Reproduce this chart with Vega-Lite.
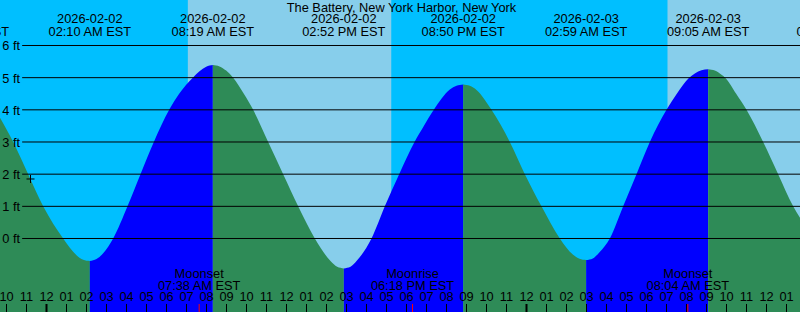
{
  "$schema": "https://vega.github.io/schema/vega-lite/v6.json",
  "width": 800,
  "height": 312,
  "padding": 0,
  "autosize": {"type": "none"},
  "background": "#00BFFF",
  "config": {"view": {"stroke": null}, "font": "Liberation Sans"},
  "datasets": {
    "bands": [
      {"start": "2026-02-01T17:13:00Z", "end": "2026-02-02T07:04:00Z", "phase": "night"},
      {"start": "2026-02-02T07:04:00Z", "end": "2026-02-02T17:15:00Z", "phase": "day"},
      {"start": "2026-02-02T17:15:00Z", "end": "2026-02-03T07:03:00Z", "phase": "night"},
      {"start": "2026-02-03T07:03:00Z", "end": "2026-02-03T17:16:00Z", "phase": "day"}
    ],
    "tide": [
      {"t": "2026-02-01T21:40:00Z", "ft": 3.76, "seg": "f0", "dir": "falling"},
      {"t": "2026-02-01T22:20:00Z", "ft": 3.0, "seg": "f0", "dir": "falling"},
      {"t": "2026-02-01T23:05:00Z", "ft": 2.0, "seg": "f0", "dir": "falling"},
      {"t": "2026-02-01T23:50:00Z", "ft": 1.0, "seg": "f0", "dir": "falling"},
      {"t": "2026-02-02T00:50:00Z", "ft": 0.0, "seg": "f0", "dir": "falling"},
      {"t": "2026-02-02T01:30:00Z", "ft": -0.52, "seg": "f0", "dir": "falling"},
      {"t": "2026-02-02T01:50:00Z", "ft": -0.66, "seg": "f0", "dir": "falling"},
      {"t": "2026-02-02T02:10:00Z", "ft": -0.70, "seg": "f0", "dir": "falling"},

      {"t": "2026-02-02T02:10:00Z", "ft": -0.70, "seg": "r1", "dir": "rising"},
      {"t": "2026-02-02T02:30:00Z", "ft": -0.64, "seg": "r1", "dir": "rising"},
      {"t": "2026-02-02T02:50:00Z", "ft": -0.46, "seg": "r1", "dir": "rising"},
      {"t": "2026-02-02T03:20:00Z", "ft": 0.0, "seg": "r1", "dir": "rising"},
      {"t": "2026-02-02T04:03:00Z", "ft": 1.0, "seg": "r1", "dir": "rising"},
      {"t": "2026-02-02T04:42:00Z", "ft": 2.0, "seg": "r1", "dir": "rising"},
      {"t": "2026-02-02T05:22:00Z", "ft": 3.0, "seg": "r1", "dir": "rising"},
      {"t": "2026-02-02T06:08:00Z", "ft": 4.0, "seg": "r1", "dir": "rising"},
      {"t": "2026-02-02T06:38:00Z", "ft": 4.5, "seg": "r1", "dir": "rising"},
      {"t": "2026-02-02T07:19:00Z", "ft": 5.0, "seg": "r1", "dir": "rising"},
      {"t": "2026-02-02T07:39:00Z", "ft": 5.2, "seg": "r1", "dir": "rising"},
      {"t": "2026-02-02T07:59:00Z", "ft": 5.34, "seg": "r1", "dir": "rising"},
      {"t": "2026-02-02T08:19:00Z", "ft": 5.39, "seg": "r1", "dir": "rising"},

      {"t": "2026-02-02T08:19:00Z", "ft": 5.39, "seg": "f1", "dir": "falling"},
      {"t": "2026-02-02T08:39:00Z", "ft": 5.35, "seg": "f1", "dir": "falling"},
      {"t": "2026-02-02T08:59:00Z", "ft": 5.22, "seg": "f1", "dir": "falling"},
      {"t": "2026-02-02T09:20:00Z", "ft": 5.0, "seg": "f1", "dir": "falling"},
      {"t": "2026-02-02T09:52:00Z", "ft": 4.5, "seg": "f1", "dir": "falling"},
      {"t": "2026-02-02T10:20:00Z", "ft": 4.0, "seg": "f1", "dir": "falling"},
      {"t": "2026-02-02T11:05:00Z", "ft": 3.0, "seg": "f1", "dir": "falling"},
      {"t": "2026-02-02T11:50:00Z", "ft": 2.0, "seg": "f1", "dir": "falling"},
      {"t": "2026-02-02T12:35:00Z", "ft": 1.0, "seg": "f1", "dir": "falling"},
      {"t": "2026-02-02T13:25:00Z", "ft": 0.0, "seg": "f1", "dir": "falling"},
      {"t": "2026-02-02T14:12:00Z", "ft": -0.70, "seg": "f1", "dir": "falling"},
      {"t": "2026-02-02T14:32:00Z", "ft": -0.88, "seg": "f1", "dir": "falling"},
      {"t": "2026-02-02T14:52:00Z", "ft": -0.93, "seg": "f1", "dir": "falling"},

      {"t": "2026-02-02T14:52:00Z", "ft": -0.93, "seg": "r2", "dir": "rising"},
      {"t": "2026-02-02T15:12:00Z", "ft": -0.88, "seg": "r2", "dir": "rising"},
      {"t": "2026-02-02T15:32:00Z", "ft": -0.68, "seg": "r2", "dir": "rising"},
      {"t": "2026-02-02T16:15:00Z", "ft": 0.0, "seg": "r2", "dir": "rising"},
      {"t": "2026-02-02T16:55:00Z", "ft": 1.0, "seg": "r2", "dir": "rising"},
      {"t": "2026-02-02T17:38:00Z", "ft": 2.0, "seg": "r2", "dir": "rising"},
      {"t": "2026-02-02T18:24:00Z", "ft": 3.0, "seg": "r2", "dir": "rising"},
      {"t": "2026-02-02T18:52:00Z", "ft": 3.5, "seg": "r2", "dir": "rising"},
      {"t": "2026-02-02T19:22:00Z", "ft": 4.0, "seg": "r2", "dir": "rising"},
      {"t": "2026-02-02T20:10:00Z", "ft": 4.63, "seg": "r2", "dir": "rising"},
      {"t": "2026-02-02T20:30:00Z", "ft": 4.75, "seg": "r2", "dir": "rising"},
      {"t": "2026-02-02T20:50:00Z", "ft": 4.79, "seg": "r2", "dir": "rising"},

      {"t": "2026-02-02T20:50:00Z", "ft": 4.79, "seg": "f2", "dir": "falling"},
      {"t": "2026-02-02T21:10:00Z", "ft": 4.75, "seg": "f2", "dir": "falling"},
      {"t": "2026-02-02T21:30:00Z", "ft": 4.62, "seg": "f2", "dir": "falling"},
      {"t": "2026-02-02T22:15:00Z", "ft": 4.0, "seg": "f2", "dir": "falling"},
      {"t": "2026-02-02T23:10:00Z", "ft": 3.0, "seg": "f2", "dir": "falling"},
      {"t": "2026-02-02T23:55:00Z", "ft": 2.0, "seg": "f2", "dir": "falling"},
      {"t": "2026-02-03T00:45:00Z", "ft": 1.0, "seg": "f2", "dir": "falling"},
      {"t": "2026-02-03T01:40:00Z", "ft": 0.0, "seg": "f2", "dir": "falling"},
      {"t": "2026-02-03T02:19:00Z", "ft": -0.50, "seg": "f2", "dir": "falling"},
      {"t": "2026-02-03T02:39:00Z", "ft": -0.63, "seg": "f2", "dir": "falling"},
      {"t": "2026-02-03T02:59:00Z", "ft": -0.67, "seg": "f2", "dir": "falling"},

      {"t": "2026-02-03T02:59:00Z", "ft": -0.67, "seg": "r3", "dir": "rising"},
      {"t": "2026-02-03T03:19:00Z", "ft": -0.62, "seg": "r3", "dir": "rising"},
      {"t": "2026-02-03T03:39:00Z", "ft": -0.43, "seg": "r3", "dir": "rising"},
      {"t": "2026-02-03T04:10:00Z", "ft": 0.0, "seg": "r3", "dir": "rising"},
      {"t": "2026-02-03T04:50:00Z", "ft": 1.0, "seg": "r3", "dir": "rising"},
      {"t": "2026-02-03T05:30:00Z", "ft": 2.0, "seg": "r3", "dir": "rising"},
      {"t": "2026-02-03T06:10:00Z", "ft": 3.0, "seg": "r3", "dir": "rising"},
      {"t": "2026-02-03T07:00:00Z", "ft": 4.0, "seg": "r3", "dir": "rising"},
      {"t": "2026-02-03T07:31:00Z", "ft": 4.5, "seg": "r3", "dir": "rising"},
      {"t": "2026-02-03T08:08:00Z", "ft": 5.0, "seg": "r3", "dir": "rising"},
      {"t": "2026-02-03T08:25:00Z", "ft": 5.13, "seg": "r3", "dir": "rising"},
      {"t": "2026-02-03T08:45:00Z", "ft": 5.23, "seg": "r3", "dir": "rising"},
      {"t": "2026-02-03T09:05:00Z", "ft": 5.26, "seg": "r3", "dir": "rising"},

      {"t": "2026-02-03T09:05:00Z", "ft": 5.26, "seg": "f3", "dir": "falling"},
      {"t": "2026-02-03T09:25:00Z", "ft": 5.22, "seg": "f3", "dir": "falling"},
      {"t": "2026-02-03T09:45:00Z", "ft": 5.09, "seg": "f3", "dir": "falling"},
      {"t": "2026-02-03T09:56:00Z", "ft": 5.0, "seg": "f3", "dir": "falling"},
      {"t": "2026-02-03T10:29:00Z", "ft": 4.5, "seg": "f3", "dir": "falling"},
      {"t": "2026-02-03T11:00:00Z", "ft": 4.0, "seg": "f3", "dir": "falling"},
      {"t": "2026-02-03T11:50:00Z", "ft": 3.0, "seg": "f3", "dir": "falling"},
      {"t": "2026-02-03T12:35:00Z", "ft": 2.0, "seg": "f3", "dir": "falling"},
      {"t": "2026-02-03T13:20:00Z", "ft": 1.0, "seg": "f3", "dir": "falling"},
      {"t": "2026-02-03T13:42:00Z", "ft": 0.62, "seg": "f3", "dir": "falling"}
    ],
    "grid": [
      {"ft": 0, "label": "0 ft"},
      {"ft": 1, "label": "1 ft"},
      {"ft": 2, "label": "2 ft"},
      {"ft": 3, "label": "3 ft"},
      {"ft": 4, "label": "4 ft"},
      {"ft": 5, "label": "5 ft"},
      {"ft": 6, "label": "6 ft"}
    ],
    "hours": [
      {"t": "2026-02-01T22:00:00Z", "label": "10"},
      {"t": "2026-02-01T23:00:00Z", "label": "11"},
      {"t": "2026-02-02T00:00:00Z", "label": "12"},
      {"t": "2026-02-02T01:00:00Z", "label": "01"},
      {"t": "2026-02-02T02:00:00Z", "label": "02"},
      {"t": "2026-02-02T03:00:00Z", "label": "03"},
      {"t": "2026-02-02T04:00:00Z", "label": "04"},
      {"t": "2026-02-02T05:00:00Z", "label": "05"},
      {"t": "2026-02-02T06:00:00Z", "label": "06"},
      {"t": "2026-02-02T07:00:00Z", "label": "07"},
      {"t": "2026-02-02T08:00:00Z", "label": "08"},
      {"t": "2026-02-02T09:00:00Z", "label": "09"},
      {"t": "2026-02-02T10:00:00Z", "label": "10"},
      {"t": "2026-02-02T11:00:00Z", "label": "11"},
      {"t": "2026-02-02T12:00:00Z", "label": "12"},
      {"t": "2026-02-02T13:00:00Z", "label": "01"},
      {"t": "2026-02-02T14:00:00Z", "label": "02"},
      {"t": "2026-02-02T15:00:00Z", "label": "03"},
      {"t": "2026-02-02T16:00:00Z", "label": "04"},
      {"t": "2026-02-02T17:00:00Z", "label": "05"},
      {"t": "2026-02-02T18:00:00Z", "label": "06"},
      {"t": "2026-02-02T19:00:00Z", "label": "07"},
      {"t": "2026-02-02T20:00:00Z", "label": "08"},
      {"t": "2026-02-02T21:00:00Z", "label": "09"},
      {"t": "2026-02-02T22:00:00Z", "label": "10"},
      {"t": "2026-02-02T23:00:00Z", "label": "11"},
      {"t": "2026-02-03T00:00:00Z", "label": "12"},
      {"t": "2026-02-03T01:00:00Z", "label": "01"},
      {"t": "2026-02-03T02:00:00Z", "label": "02"},
      {"t": "2026-02-03T03:00:00Z", "label": "03"},
      {"t": "2026-02-03T04:00:00Z", "label": "04"},
      {"t": "2026-02-03T05:00:00Z", "label": "05"},
      {"t": "2026-02-03T06:00:00Z", "label": "06"},
      {"t": "2026-02-03T07:00:00Z", "label": "07"},
      {"t": "2026-02-03T08:00:00Z", "label": "08"},
      {"t": "2026-02-03T09:00:00Z", "label": "09"},
      {"t": "2026-02-03T10:00:00Z", "label": "10"},
      {"t": "2026-02-03T11:00:00Z", "label": "11"},
      {"t": "2026-02-03T12:00:00Z", "label": "12"},
      {"t": "2026-02-03T13:00:00Z", "label": "01"}
    ],
    "now": [
      {"t": "2026-02-01T23:12:00Z", "ft": 1.85}
    ],
    "heading": [
      {"t": "2026-02-02T17:45:00Z", "text": "The Battery, New York Harbor, New York"}
    ],
    "tideEvents": [
      {"t": "2026-02-01T20:03:00Z", "date": "2026-02-01", "time": "08:03 PM EST"},
      {"t": "2026-02-02T02:10:00Z", "date": "2026-02-02", "time": "02:10 AM EST"},
      {"t": "2026-02-02T08:19:00Z", "date": "2026-02-02", "time": "08:19 AM EST"},
      {"t": "2026-02-02T14:52:00Z", "date": "2026-02-02", "time": "02:52 PM EST"},
      {"t": "2026-02-02T20:50:00Z", "date": "2026-02-02", "time": "08:50 PM EST"},
      {"t": "2026-02-03T02:59:00Z", "date": "2026-02-03", "time": "02:59 AM EST"},
      {"t": "2026-02-03T09:05:00Z", "date": "2026-02-03", "time": "09:05 AM EST"},
      {"t": "2026-02-03T15:35:00Z", "date": "2026-02-03", "time": "03:35 PM EST"}
    ],
    "moon": [
      {"t": "2026-02-02T07:38:00Z", "event": "Moonset", "time": "07:38 AM EST"},
      {"t": "2026-02-02T18:18:00Z", "event": "Moonrise", "time": "06:18 PM EST"},
      {"t": "2026-02-03T08:04:00Z", "event": "Moonset", "time": "08:04 AM EST"}
    ]
  },
  "layer": [
    {
      "data": {"name": "bands"},
      "mark": {"type": "rect", "clip": true},
      "encoding": {
        "x": {
          "field": "start", "type": "temporal", "axis": null,
          "scale": {"type": "utc", "nice": false, "domain": [
            {"year": 2026, "month": 2, "date": 1, "hours": 21, "minutes": 40, "seconds": 30, "utc": true},
            {"year": 2026, "month": 2, "date": 3, "hours": 13, "minutes": 40, "seconds": 30, "utc": true}
          ]}
        },
        "x2": {"field": "end"},
        "color": {
          "field": "phase", "type": "nominal",
          "scale": {"domain": ["night", "day", "rising", "falling"], "range": ["#00BFFF", "#87CEEB", "#0000FF", "#2E8B57"]},
          "legend": null
        }
      }
    },
    {
      "data": {"name": "tide"},
      "mark": {"type": "area", "interpolate": "monotone", "clip": true},
      "encoding": {
        "x": {"field": "t", "type": "temporal", "axis": null},
        "y": {"field": "ft", "type": "quantitative", "stack": null, "axis": null,
              "scale": {"domain": [-2.285, 7.4145], "nice": false, "zero": false}},
        "y2": {"datum": -2.285},
        "color": {"field": "dir", "type": "nominal", "legend": null},
        "detail": {"field": "seg"}
      }
    },
    {
      "data": {"name": "grid"},
      "mark": {"type": "rule", "color": "black", "strokeWidth": 1, "clip": true},
      "encoding": {
        "y": {"field": "ft", "type": "quantitative", "axis": null},
        "x": {"datum": {"year": 2026, "month": 2, "date": 1, "hours": 22, "minutes": 47, "utc": true}, "type": "temporal", "axis": null},
        "x2": {"datum": {"year": 2026, "month": 2, "date": 3, "hours": 14, "minutes": 0, "utc": true}}
      }
    },
    {
      "data": {"name": "grid"},
      "mark": {"type": "text", "align": "right", "baseline": "middle", "dx": -2, "dy": 1, "fontSize": 12.8, "font": "Liberation Sans", "color": "black"},
      "encoding": {
        "y": {"field": "ft", "type": "quantitative", "axis": null},
        "x": {"datum": {"year": 2026, "month": 2, "date": 1, "hours": 22, "minutes": 47, "utc": true}, "type": "temporal", "axis": null},
        "text": {"field": "label"}
      }
    },
    {
      "data": {"name": "now"},
      "mark": {"type": "point", "shape": "M-1,0H1M0,-1V1", "filled": false, "stroke": "black", "strokeWidth": 1, "size": 64, "opacity": 1},
      "encoding": {
        "x": {"field": "t", "type": "temporal", "axis": null},
        "y": {"field": "ft", "type": "quantitative", "axis": null}
      }
    },
    {
      "data": {"name": "heading"},
      "mark": {"type": "text", "align": "center", "baseline": "alphabetic", "fontSize": 12.8, "font": "Liberation Sans", "color": "black"},
      "encoding": {
        "x": {"field": "t", "type": "temporal", "axis": null},
        "y": {"datum": 7.051, "type": "quantitative", "axis": null},
        "text": {"field": "text"}
      }
    },
    {
      "data": {"name": "tideEvents"},
      "mark": {"type": "text", "align": "center", "baseline": "alphabetic", "fontSize": 12.8, "font": "Liberation Sans", "color": "black"},
      "encoding": {
        "x": {"field": "t", "type": "temporal", "axis": null},
        "y": {"datum": 6.69, "type": "quantitative", "axis": null},
        "text": {"field": "date"}
      }
    },
    {
      "data": {"name": "tideEvents"},
      "mark": {"type": "text", "align": "center", "baseline": "alphabetic", "fontSize": 12.8, "font": "Liberation Sans", "color": "black"},
      "encoding": {
        "x": {"field": "t", "type": "temporal", "axis": null},
        "y": {"datum": 6.308, "type": "quantitative", "axis": null},
        "text": {"field": "time"}
      }
    },
    {
      "data": {"name": "moon"},
      "mark": {"type": "text", "align": "center", "baseline": "alphabetic", "fontSize": 12.8, "font": "Liberation Sans", "color": "black"},
      "encoding": {
        "x": {"field": "t", "type": "temporal", "axis": null},
        "y": {"datum": -1.237, "type": "quantitative", "axis": null},
        "text": {"field": "event"}
      }
    },
    {
      "data": {"name": "moon"},
      "mark": {"type": "text", "align": "center", "baseline": "alphabetic", "fontSize": 12.8, "font": "Liberation Sans", "color": "black"},
      "encoding": {
        "x": {"field": "t", "type": "temporal", "axis": null},
        "y": {"datum": -1.601, "type": "quantitative", "axis": null},
        "text": {"field": "time"}
      }
    },
    {
      "data": {"name": "hours"},
      "mark": {"type": "text", "align": "center", "baseline": "alphabetic", "fontSize": 12.8, "font": "Liberation Sans", "color": "black"},
      "encoding": {
        "x": {"field": "t", "type": "temporal", "axis": null},
        "y": {"datum": -1.943, "type": "quantitative", "axis": null},
        "text": {"field": "label"}
      }
    },
    {
      "data": {"name": "hours"},
      "mark": {"type": "rule", "color": "black"},
      "encoding": {
        "x": {"field": "t", "type": "temporal", "axis": null},
        "y": {"datum": -2.036, "type": "quantitative", "axis": null},
        "y2": {"datum": -2.285},
        "strokeWidth": {"condition": {"test": "utchours(datum.t) === 0", "value": 2}, "value": 1}
      }
    },
    {
      "data": {"name": "moon"},
      "mark": {"type": "rule", "color": "red", "strokeWidth": 1},
      "encoding": {
        "x": {"field": "t", "type": "temporal", "axis": null},
        "y": {"datum": -2.036, "type": "quantitative", "axis": null},
        "y2": {"datum": -2.285}
      }
    }
  ]
}
